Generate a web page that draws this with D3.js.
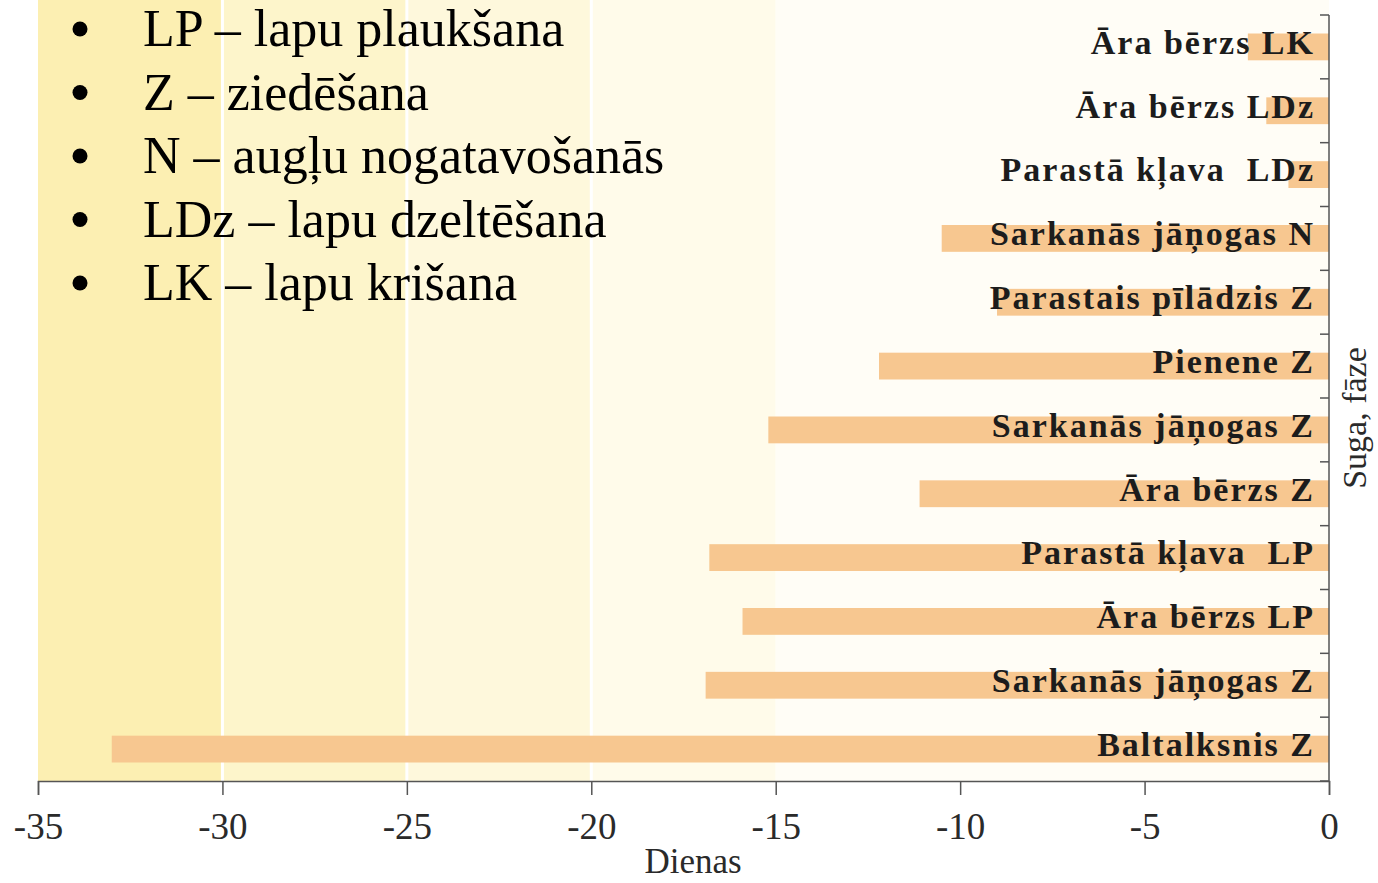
<!DOCTYPE html>
<html><head><meta charset="utf-8">
<script src="https://cdn.jsdelivr.net/npm/d3@7"></script>
<style>body{margin:0;background:#fff;} svg{display:block;}</style>
</head><body>
<svg id="c" width="1378" height="883"></svg>
<script>
const categories = ["Āra bērzs LK","Āra bērzs LDz","Parastā kļava  LDz","Sarkanās jāņogas N","Parastais pīlādzis Z","Pienene Z","Sarkanās jāņogas Z","Āra bērzs Z","Parastā kļava  LP","Āra bērzs LP","Sarkanās jāņogas Z ","Baltalksnis Z"];
const values = [-2.2,-1.7,-1.1,-10.5,-9.0,-12.2,-15.2,-11.1,-16.8,-15.9,-16.9,-33.0];
const xTicks = [-35,-30,-25,-20,-15,-10,-5,0];
const legendItems = ["LP – lapu plaukšana","Z – ziedēšana","N – augļu nogatavošanās","LDz – lapu dzeltēšana","LK – lapu krišana"];
const bgBands = [[-35,-30],[-30,-25],[-25,-20],[-20,-15],[-15,0]];
const bgColors = ["#fcefb2","#fdf5cb","#fef8dc","#fffbea","#fffdf6"];

(function(){
const svg = d3.select("#c");
const L=38, R=1329, T=15, B=781;
const x = d3.scaleLinear().domain([-35,0]).range([L,R]);
const y = d3.scaleBand().domain(categories).range([T,B]).paddingInner(0.58).paddingOuter(0.29);

svg.append("g").selectAll("rect").data(bgBands).join("rect")
  .attr("x",d=>x(d[0])).attr("width",d=>x(d[1])-x(d[0]))
  .attr("y",0).attr("height",B)
  .attr("fill",(d,i)=>bgColors[i]);
svg.append("g").selectAll("line").data([-30,-25,-20]).join("line")
  .attr("x1",d=>x(d)).attr("x2",d=>x(d)).attr("y1",0).attr("y2",B)
  .attr("stroke","#ffffff").attr("stroke-width",3);

svg.append("g").selectAll("rect").data(values).join("rect")
  .attr("x",d=>x(d)).attr("width",d=>x(0)-x(d))
  .attr("y",(d,i)=>y(categories[i])).attr("height",y.bandwidth())
  .attr("fill","#f7c790");

svg.append("g").selectAll("text").data(categories).join("text")
  .attr("x",x(0)-14).attr("y",d=>y(d)+y.bandwidth()/2)
  .attr("dy","0.2em").attr("text-anchor","end")
  .attr("font-family","Liberation Serif").attr("font-weight","bold")
  .attr("font-size",34).attr("letter-spacing","2px").attr("fill","#1c1c1c").style("white-space","pre")
  .text(d=>d.trimEnd());

const xa = svg.append("g").attr("transform",`translate(0,${B})`)
  .call(d3.axisBottom(x).tickValues(xTicks).tickSize(14).tickPadding(18).tickFormat(d=>String(d)));
xa.select(".domain").attr("stroke","#555").attr("stroke-width",1.5);
xa.selectAll(".tick line").attr("stroke","#555").attr("stroke-width",1.5);
xa.selectAll("text").attr("font-family","Liberation Serif").attr("font-size",37).attr("fill","#2a2a2a");

const yTickPos = d3.range(categories.length+1).map(i=>T+i*(B-T)/categories.length);
svg.append("line").attr("x1",R).attr("x2",R).attr("y1",T).attr("y2",B).attr("stroke","#555").attr("stroke-width",1.5);
svg.append("g").selectAll("line").data(yTickPos).join("line")
  .attr("x1",R-9).attr("x2",R).attr("y1",d=>d).attr("y2",d=>d)
  .attr("stroke","#555").attr("stroke-width",1.5);

svg.append("text").attr("x",693).attr("y",873).attr("text-anchor","middle")
  .attr("font-family","Liberation Serif").attr("font-size",35).attr("fill","#2a2a2a").text("Dienas");
svg.append("text").attr("transform",`translate(1366,418) rotate(-90)`).attr("text-anchor","middle")
  .attr("font-family","Liberation Serif").attr("font-size",34).attr("fill","#2a2a2a").text("Suga, fāze");

const lg = svg.append("g");
lg.selectAll("circle").data(legendItems).join("circle")
  .attr("cx",80).attr("cy",(d,i)=>29+i*63.5).attr("r",7.5).attr("fill","#000");
lg.selectAll("text").data(legendItems).join("text")
  .attr("x",143).attr("y",(d,i)=>46+i*63.5)
  .attr("font-family","Liberation Serif").attr("font-size",52).attr("fill","#000").text(d=>d);
})();
</script>
</body></html>
